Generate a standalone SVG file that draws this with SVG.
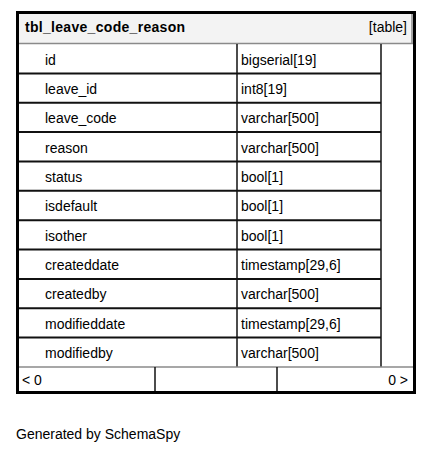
<svg xmlns="http://www.w3.org/2000/svg" width="433" height="453" viewBox="0 0 433 453">
<style>
  text { font-family: "Liberation Sans", Arial, sans-serif; font-size: 14px; fill: #000; }
  .title { font-weight: bold; letter-spacing: 0.3px; }
  .row { stroke: #111; stroke-width: 2; fill: none; }
  .vline { stroke: #111; stroke-width: 1.5; fill: none; }
  .gray { stroke: #8a8a8a; stroke-width: 1.5; fill: none; }
</style>
<rect width="433" height="453" fill="#fff"/>
<g id="connectors"/>
<g id="tbl_leave_code_reason">
  <rect x="17.5" y="12.5" width="397" height="380" fill="#fff"/>
  <rect x="19" y="14" width="394" height="30" fill="#f3f3f3"/>
  <line class="gray" x1="19" y1="43.5" x2="413" y2="43.5"/>
  <line class="gray" x1="412" y1="14" x2="412" y2="44"/>
  <text class="title" x="25" y="32">tbl_leave_code_reason</text>
  <text x="407" y="32" text-anchor="end">[table]</text>
  <!-- row separators -->
  <line class="row" x1="19" y1="73.4" x2="381" y2="73.4"/>
  <line class="row" x1="19" y1="102.7" x2="381" y2="102.7"/>
  <line class="row" x1="19" y1="132.1" x2="381" y2="132.1"/>
  <line class="row" x1="19" y1="161.4" x2="381" y2="161.4"/>
  <line class="row" x1="19" y1="190.8" x2="381" y2="190.8"/>
  <line class="row" x1="19" y1="220.2" x2="381" y2="220.2"/>
  <line class="row" x1="19" y1="249.5" x2="381" y2="249.5"/>
  <line class="row" x1="19" y1="278.9" x2="381" y2="278.9"/>
  <line class="row" x1="19" y1="308.2" x2="381" y2="308.2"/>
  <line class="row" x1="19" y1="337.6" x2="381" y2="337.6"/>
  <line class="vline" x1="237" y1="44" x2="237" y2="367"/>
  <line class="vline" x1="381" y1="44" x2="381" y2="367"/>
  <line class="gray" x1="19" y1="367" x2="413" y2="367"/>
  <line class="vline" x1="155" y1="367" x2="155" y2="391"/>
  <line class="vline" x1="277" y1="367" x2="277" y2="391"/>
  <!-- names -->
  <text x="45" y="64.5">id</text>
  <text x="45" y="93.9">leave_id</text>
  <text x="45" y="123.2">leave_code</text>
  <text x="45" y="152.6">reason</text>
  <text x="45" y="181.9">status</text>
  <text x="45" y="211.3">isdefault</text>
  <text x="45" y="240.7">isother</text>
  <text x="45" y="270">createddate</text>
  <text x="45" y="299.4">createdby</text>
  <text x="45" y="328.7">modifieddate</text>
  <text x="45" y="358.1">modifiedby</text>
  <!-- types -->
  <text x="241" y="64.5">bigserial[19]</text>
  <text x="241" y="93.9">int8[19]</text>
  <text x="241" y="123.2">varchar[500]</text>
  <text x="241" y="152.6">varchar[500]</text>
  <text x="241" y="181.9">bool[1]</text>
  <text x="241" y="211.3">bool[1]</text>
  <text x="241" y="240.7">bool[1]</text>
  <text x="241" y="270">timestamp[29,6]</text>
  <text x="241" y="299.4">varchar[500]</text>
  <text x="241" y="328.7">timestamp[29,6]</text>
  <text x="241" y="358.1">varchar[500]</text>
  <!-- footer -->
  <text x="22" y="385">&lt; 0</text>
  <text x="408" y="385" text-anchor="end">0 &gt;</text>
  <rect x="17.5" y="12.5" width="397" height="380" fill="none" stroke="#000" stroke-width="3"/>
</g>
<text x="16" y="439">Generated by SchemaSpy</text>
</svg>
